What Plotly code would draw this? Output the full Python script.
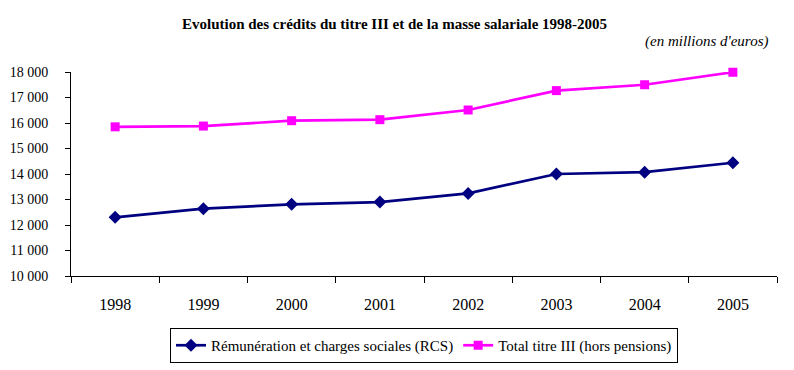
import plotly.graph_objects as go

years = ["1998", "1999", "2000", "2001", "2002", "2003", "2004", "2005"]
rcs = [12300, 12640, 12810, 12900, 13240, 14000, 14070, 14440]
total_titre3 = [15850, 15880, 16090, 16130, 16510, 17270, 17500, 17990]

serif = "Liberation Serif"

fig = go.Figure()
fig.add_trace(go.Scatter(
    x=years, y=rcs, mode="lines+markers",
    name="Rémunération et charges sociales (RCS)",
    line=dict(color="#000080", width=2.7),
    marker=dict(symbol="diamond", size=10, color="#000080"),
    cliponaxis=False,
))
fig.add_trace(go.Scatter(
    x=years, y=total_titre3, mode="lines+markers",
    name="Total titre III (hors pensions)",
    line=dict(color="#FF00FF", width=2.7),
    marker=dict(symbol="square", size=9, color="#FF00FF"),
    cliponaxis=False,
))

fig.update_layout(
    width=794, height=370,
    margin=dict(l=71, r=17, t=72, b=94, autoexpand=False),
    paper_bgcolor="white", plot_bgcolor="white",
    font=dict(family=serif, color="black", size=13),
    separators=", ",
    showlegend=True,
    legend=dict(
        orientation="h", x=(424 - 71) / 706, xanchor="center",
        yref="container", y=1 - 328 / 370, yanchor="top",
        bordercolor="black", borderwidth=1, font=dict(size=15, family=serif),
        itemwidth=30, tracegroupgap=0,
    ),
    annotations=[
        dict(text="<b>Evolution des crédits du titre III et de la masse salariale 1998-2005</b>",
             xref="paper", yref="paper", x=(394 - 71) / 706, y=1 + (72.5 - 25) / 203,
             xanchor="center", yanchor="middle", showarrow=False,
             font=dict(size=15, family=serif)),
        dict(text="<i>(en millions d'euros)</i>",
             xref="paper", yref="paper", x=(770 - 71) / 706, y=1 + (72.5 - 42) / 203,
             xanchor="right", yanchor="middle", showarrow=False,
             font=dict(size=15, family=serif)),
    ],
)

fig.update_xaxes(
    type="category", showgrid=False, showline=True, linecolor="black", linewidth=1,
    ticks="outside", tickson="boundaries", ticklen=6, tickcolor="black",
    tickfont=dict(size=16, family=serif), ticklabelstandoff=14,
    range=[-0.5, 7.5], zeroline=False,
)
fig.update_yaxes(
    range=[10000, 18000], dtick=1000, tickformat=",d",
    showgrid=False, showline=True, linecolor="black", linewidth=1,
    ticks="outside", ticklen=5, tickcolor="black",
    tickfont=dict(size=14, family=serif), ticklabelstandoff=14, zeroline=False,
)

fig.write_html("out.html", config={"displayModeBar": False},
               post_script="document.body.style.margin='0';")
